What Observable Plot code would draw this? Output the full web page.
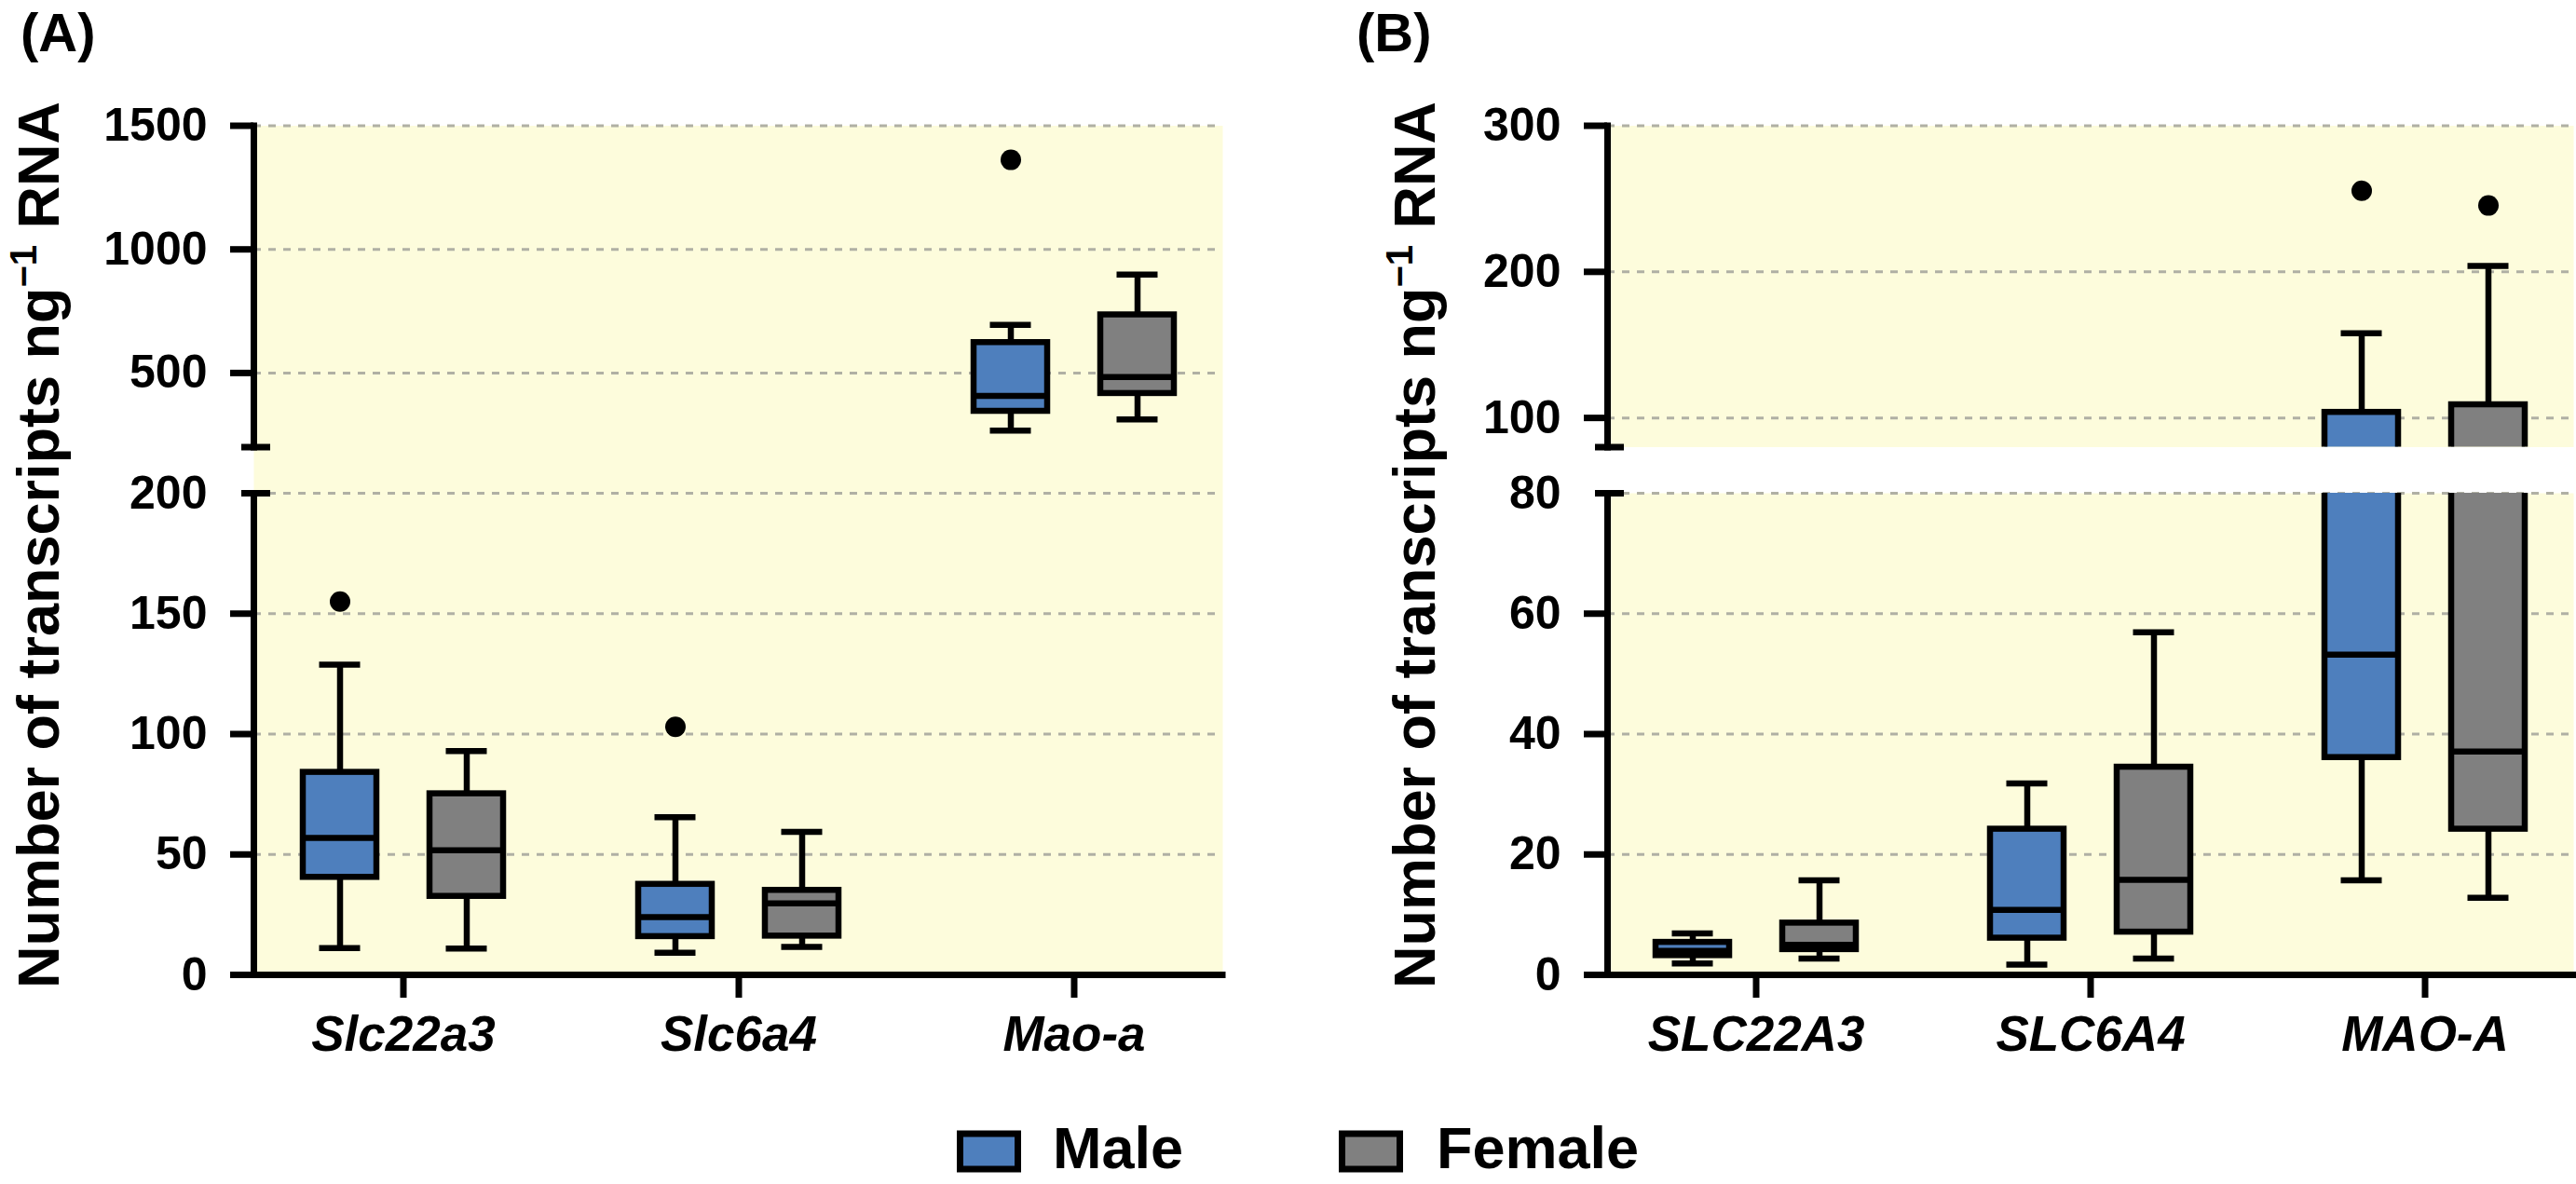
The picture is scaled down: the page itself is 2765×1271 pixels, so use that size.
<!DOCTYPE html>
<html>
<head>
<meta charset="utf-8">
<script src="https://cdn.jsdelivr.net/npm/d3@7"></script>
<script src="https://cdn.jsdelivr.net/npm/@observablehq/plot@0.6"></script>
<style>
  html, body { margin: 0; padding: 0; background: #fff; }
  #fig { position: relative; width: 2765px; height: 1271px; overflow: hidden; background: #fff; }
</style>
</head>
<body>
<div id="fig"></div>
<script>
// ---------------- data ----------------
const sexes = ["Male", "Female"];
const genesA = ["Slc22a3", "Slc6a4", "Mao-a"];
const genesB = ["SLC22A3", "SLC6A4", "MAO-A"];

// Panel A (box statistics per gene)
const aMaleMin = [11.1, 9.2, 267];
const aMaleQ1  = [40.5, 15.9, 345];
const aMaleMed = [56.9, 24.0, 407];
const aMaleQ3  = [84.1, 37.6, 623];
const aMaleMax = [128.8, 65.5, 695];
const aMaleOut = [155, 103, 1362];
const aFemaleMin = [10.9, 11.6, 312];
const aFemaleQ1  = [32.6, 16.1, 417];
const aFemaleMed = [51.7, 29.7, 484];
const aFemaleQ3  = [75.2, 35.1, 735];
const aFemaleMax = [92.9, 59.4, 898];
const aFemaleOut = [null, null, null];

// Panel B
const bMaleMin = [1.9, 1.7, 15.7];
const bMaleQ1  = [3.2, 6.1, 36.1];
const bMaleMed = [4.0, 10.8, 53.2];
const bMaleQ3  = [5.4, 24.2, 103.8];
const bMaleMax = [6.9, 31.8, 158];
const bMaleOut = [null, null, 255.5];
const bFemaleMin = [2.7, 2.7, 12.8];
const bFemaleQ1  = [4.2, 7.1, 24.2];
const bFemaleMed = [5.0, 15.8, 37.1];
const bFemaleQ3  = [8.6, 34.5, 109];
const bFemaleMax = [15.7, 56.9, 204];
const bFemaleOut = [null, null, 245.4];

// axis segments (broken y axes)
const aUpperDomain = [200, 1500];
const aLowerDomain = [0, 200];
const aUpperTicks = [500, 1000, 1500];
const aLowerTicks = [0, 50, 100, 150, 200];
const bUpperDomain = [80, 300];
const bLowerDomain = [0, 80];
const bUpperTicks = [100, 200, 300];
const bLowerTicks = [0, 20, 40, 60, 80];

const yTitle = ["Number of transcripts ng", "\u22121", " RNA"];
const panelLabels = ["(A)", "(B)"];

// ---------------- style ----------------
const W = 2765, H = 1271;
const FONT = "'Liberation Sans', Arial, Helvetica, sans-serif";
const YELLOW = "#fdfcdc";
const GRID = "#b0b0a4";
const colors = {Male: "#4e7fbd", Female: "#808080"};
const OFF = 68;      // dodge offset of Male/Female boxes
const SW = 6.5;      // box stroke

function buildRows(genes, s) {
  const rows = [];
  genes.forEach((g, i) => {
    for (const sex of sexes) {
      const v = s[sex];
      rows.push({gene: g, sex, min: v.min[i], q1: v.q1[i], med: v.med[i], q3: v.q3[i], max: v.max[i], out: v.out[i]});
    }
  });
  return rows;
}
const rowsA = buildRows(genesA, {
  Male: {min: aMaleMin, q1: aMaleQ1, med: aMaleMed, q3: aMaleQ3, max: aMaleMax, out: aMaleOut},
  Female: {min: aFemaleMin, q1: aFemaleQ1, med: aFemaleMed, q3: aFemaleQ3, max: aFemaleMax, out: aFemaleOut}
});
const rowsB = buildRows(genesB, {
  Male: {min: bMaleMin, q1: bMaleQ1, med: bMaleMed, q3: bMaleQ3, max: bMaleMax, out: bMaleOut},
  Female: {min: bFemaleMin, q1: bFemaleQ1, med: bFemaleMed, q3: bFemaleQ3, max: bFemaleMax, out: bFemaleOut}
});

function segment({genes, rows, domain, ticks, left, right, top, bottom, lower, fillTopExtend}) {
  const [d0, d1] = domain;
  const capAt = lower ? d1 : d0;
  const tickLines = lower ? ticks.filter(t => t !== d1) : ticks;
  const grid = ticks.filter(t => t !== 0);
  const marks = [
    Plot.frame({fill: YELLOW, stroke: null, insetTop: fillTopExtend ? -fillTopExtend : 0}),
    Plot.gridY(grid, {stroke: GRID, strokeOpacity: 1, strokeWidth: 3, strokeDasharray: "8,8"})
  ];
  for (const sex of sexes) {
    const d = rows.filter(r => r.sex === sex);
    const dx = sex === "Male" ? -OFF : OFF;
    marks.push(
      Plot.ruleX(d, {x: "gene", y1: "min", y2: "q1", dx, stroke: "black", strokeWidth: SW, clip: true}),
      Plot.ruleX(d, {x: "gene", y1: "q3", y2: "max", dx, stroke: "black", strokeWidth: SW, clip: true}),
      Plot.tickY(d, {x: "gene", y: "min", dx, stroke: "black", strokeWidth: SW, inset: 17.5, clip: true}),
      Plot.tickY(d, {x: "gene", y: "max", dx, stroke: "black", strokeWidth: SW, inset: 17.5, clip: true}),
      Plot.barY(d, {x: "gene", y1: "q1", y2: "q3", dx, fill: colors[sex], stroke: "black", strokeWidth: SW, clip: true}),
      Plot.tickY(d, {x: "gene", y: "med", dx, stroke: "black", strokeWidth: SW, clip: true}),
      Plot.dot(d.filter(r => r.out != null), {x: "gene", y: "out", dx, r: 11, fill: "black", stroke: null, clip: true})
    );
  }
  marks.push(
    Plot.frame({anchor: "left", stroke: "black", strokeWidth: 7, strokeLinecap: "square"}),
    Plot.axisY(tickLines, {tickSize: 25, tickFormat: () => "", stroke: "black", strokeWidth: 7, label: null}),
    Plot.axisY([capAt], {tickSize: 31, dx: 18, tickFormat: () => "", stroke: "black", strokeWidth: 7, label: null}),
    Plot.axisY(ticks, {tickSize: 0, tickPadding: 50, tickFormat: d3.format("d"), fontSize: 50, fontWeight: "bold", fill: "black", label: null})
  );
  if (lower) {
    marks.push(
      Plot.ruleY([0], {stroke: "black", strokeWidth: 7, strokeLinecap: "square"}),
      Plot.axisX({tickSize: 25, tickPadding: 19, stroke: "black", strokeWidth: 7, fontSize: 53, fontWeight: "bold", fontStyle: "italic", fill: "black", label: null})
    );
  }
  return Plot.plot({
    width: W, height: H,
    marginLeft: left, marginRight: W - right, marginTop: top, marginBottom: H - bottom,
    x: {type: "band", domain: genes, paddingInner: 0.7807, paddingOuter: 0.334, axis: lower ? undefined : null, label: null},
    y: {domain, label: null},
    style: {position: "absolute", left: "0px", top: "0px", background: "transparent", overflow: "visible", maxWidth: "none", fontFamily: FONT, fontWeight: "bold", fontSize: "50px", color: "black"},
    marks
  });
}

const fig = document.getElementById("fig");
const UP = {top: 134.5, bottom: 479.5};
const LO = {top: 529, bottom: 1046};
const PA = {left: 272, right: 1312};
const PB = {left: 1725, right: 2762};

fig.append(segment({genes: genesA, rows: rowsA, domain: aLowerDomain, ticks: aLowerTicks, ...PA, ...LO, lower: true, fillTopExtend: LO.top - UP.bottom}));
fig.append(segment({genes: genesA, rows: rowsA, domain: aUpperDomain, ticks: aUpperTicks, ...PA, ...UP, lower: false}));
fig.append(segment({genes: genesB, rows: rowsB, domain: bLowerDomain, ticks: bLowerTicks, ...PB, ...LO, lower: true}));
fig.append(segment({genes: genesB, rows: rowsB, domain: bUpperDomain, ticks: bUpperTicks, ...PB, ...UP, lower: false}));

// ---------------- titles, panel letters, legend ----------------
const deco = d3.create("svg")
  .attr("width", W).attr("height", H)
  .style("position", "absolute").style("left", "0px").style("top", "0px")
  .style("overflow", "visible")
  .attr("font-family", FONT).attr("font-weight", "bold").attr("fill", "black");

[[22, panelLabels[0]], [1456, panelLabels[1]]].forEach(([x, s]) => {
  deco.append("text").attr("x", x).attr("y", 55).attr("font-size", 58).text(s);
});

[63, 1540].forEach(x => {
  const t = deco.append("text")
    .attr("transform", `translate(${x},585) rotate(-90)`)
    .attr("text-anchor", "middle").attr("font-size", 63);
  t.append("tspan").text(yTitle[0]);
  t.append("tspan").attr("font-size", 40).attr("dy", -24).text(yTitle[1]);
  t.append("tspan").attr("dy", 24).text(yTitle[2]);
});

const legendPos = {Male: [1030.5, 1130], Female: [1440.5, 1542]};
for (const sex of sexes) {
  const [bx, tx] = legendPos[sex];
  deco.append("rect").attr("x", bx).attr("y", 1217).attr("width", 62).attr("height", 38)
    .attr("fill", colors[sex]).attr("stroke", "black").attr("stroke-width", 7);
  deco.append("text").attr("x", tx).attr("y", 1254).attr("font-size", 63).text(sex);
}
fig.append(deco.node());
</script>
</body>
</html>
